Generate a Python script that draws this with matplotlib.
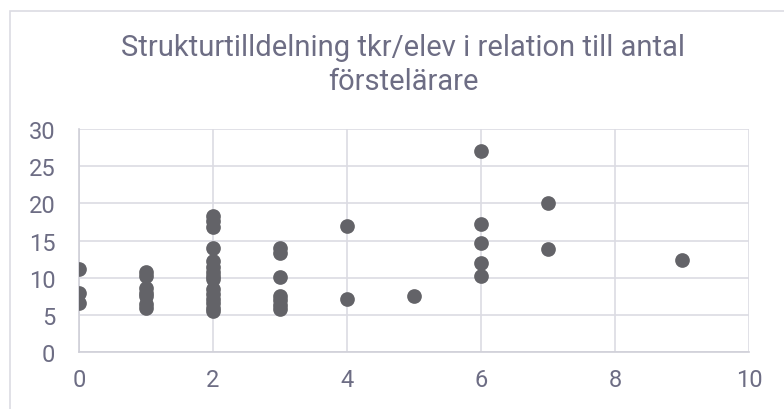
import matplotlib
matplotlib.use("Agg")
import matplotlib.pyplot as plt
from matplotlib.patches import Rectangle

# antal förstelärare (x) och strukturtilldelning tkr/elev (y)
antal = [0, 0, 0,
         1, 1, 1, 1, 1, 1, 1,
         2, 2, 2, 2, 2, 2, 2, 2, 2, 2, 2, 2, 2, 2, 2,
         3, 3, 3, 3, 3, 3, 3,
         4, 4,
         5,
         6, 6, 6, 6, 6,
         7, 7,
         9]
tkr_elev = [11.2, 7.9, 6.6,
            10.8, 10.3, 8.7, 8.0, 7.5, 6.5, 6.0,
            18.3, 17.7, 16.8, 14.0, 12.3, 11.5, 10.8, 10.3, 9.8, 8.5, 7.8, 7.2, 6.6, 6.0, 5.5,
            14.0, 13.4, 10.1, 7.6, 7.0, 6.4, 5.8,
            17.0, 7.1,
            7.5,
            27.0, 17.3, 14.7, 12.0, 10.2,
            20.1, 13.9,
            12.4]

x_ticks = [0, 2, 4, 6, 8, 10]
y_ticks = [0, 5, 10, 15, 20, 25, 30]
title = "Strukturtilldelning tkr/elev i relation till antal\nförstelärare"

text_color = "#6d6d84"
grid_color = "#dcdce3"
font = ["Roboto", "DejaVu Sans"]

fig = plt.figure(figsize=(7.84, 4.10), dpi=100)
ax = fig.add_axes([79 / 784, 1 - 353.3 / 410, 670 / 784, 223.3 / 410])

# ram runt diagramområdet
fig.patches.append(Rectangle((10 / 784, -0.1), 1.0, 1 - 12 / 410 + 0.1,
                             transform=fig.transFigure, fill=False,
                             edgecolor=grid_color, linewidth=1.2))

ax.scatter(antal, tkr_elev, s=112, color="#636368", zorder=3, linewidths=0)

ax.set_xlim(0, 10)
ax.set_ylim(0, 30)
ax.set_xticks(x_ticks)
ax.set_yticks(y_ticks)
ax.grid(True, color=grid_color, linewidth=1.2)
ax.set_axisbelow(True)
for side in ["top", "right"]:
    ax.spines[side].set_visible(False)
for side in ["left", "bottom"]:
    ax.spines[side].set_color("#cfcfd8")
    ax.spines[side].set_linewidth(1.2)
ax.tick_params(length=0, labelsize=17, labelcolor=text_color, pad=11)
ax.tick_params(axis="y", pad=17)
for lab in ax.get_xticklabels() + ax.get_yticklabels():
    lab.set_fontfamily(font)

fig.text(403 / 784, 1 - 34 / 410, title, ha="center", va="top",
         fontsize=21, color=text_color, linespacing=1.25,
         family=font)

fig.savefig("out.png", dpi=100)
